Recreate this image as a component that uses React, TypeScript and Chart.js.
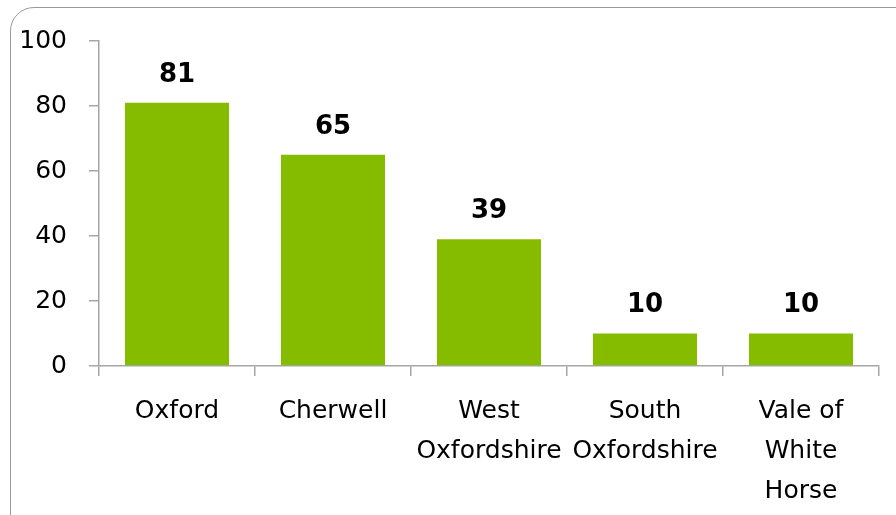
import React, { useEffect, useRef } from "react";
import { Chart, registerables } from "chart.js";

Chart.register(...registerables);

const categories: string[][] = [
  ["Oxford"],
  ["Cherwell"],
  ["West", "Oxfordshire"],
  ["South", "Oxfordshire"],
  ["Vale of", "White", "Horse"],
];
const values: number[] = [81, 65, 39, 10, 10];
const yTicks: number[] = [0, 20, 40, 60, 80, 100];

const FONT = "'DejaVu Sans', sans-serif";
const AXIS_COLOR = "#a6a6a6";
const BAR_COLOR = "#86bc00";

const valueLabels = {
  id: "valueLabels",
  afterDatasetsDraw(chart: any) {
    const ctx = chart.ctx;
    const meta = chart.getDatasetMeta(0);
    ctx.save();
    ctx.font = `bold 26px ${FONT}`;
    ctx.fillStyle = "#000";
    ctx.textAlign = "center";
    ctx.textBaseline = "middle";
    meta.data.forEach((bar: any, i: number) => {
      ctx.fillText(String(values[i]), bar.x, bar.y - 28);
    });
    ctx.restore();
  },
};

export default function App() {
  const ref = useRef<HTMLCanvasElement>(null);
  useEffect(() => {
    if (!ref.current) return;
    const chart = new Chart(ref.current, {
      type: "bar",
      data: {
        labels: categories,
        datasets: [
          {
            data: values,
            backgroundColor: BAR_COLOR,
            borderWidth: 0,
            categoryPercentage: 1,
            barPercentage: 0.667,
          },
        ],
      },
      options: {
        animation: false,
        responsive: false,
        maintainAspectRatio: false,
        layout: { padding: { top: 41, right: 17, left: 0, bottom: 0 } },
        plugins: {
          legend: { display: false },
          tooltip: { enabled: false },
          title: { display: false },
        },
        scales: {
          x: {
            grid: {
              display: true,
              drawOnChartArea: false,
              drawTicks: true,
              tickLength: 10,
              color: AXIS_COLOR,
              lineWidth: 1.5,
              offset: true,
            },
            border: { display: true, color: AXIS_COLOR, width: 1.5 },
            ticks: {
              color: "#000",
              font: { family: FONT, size: 25, lineHeight: 1.6 },
              padding: 15,
              maxRotation: 0,
              minRotation: 0,
              autoSkip: false,
            },
            afterFit(scale: any) {
              scale.height = 149;
            },
          },
          y: {
            min: 0,
            max: 100,
            grid: {
              display: true,
              drawOnChartArea: false,
              drawTicks: true,
              tickLength: 10,
              color: AXIS_COLOR,
              lineWidth: 1.5,
            },
            border: { display: true, color: AXIS_COLOR, width: 1.5 },
            afterBuildTicks(scale: any) {
              scale.ticks = yTicks.map((v) => ({ value: v }));
            },
            ticks: {
              color: "#000",
              font: { family: FONT, size: 25 },
              padding: 22,
            },
            afterFit(scale: any) {
              scale.width = 99;
            },
          },
        },
      },
      plugins: [valueLabels],
    });
    return () => chart.destroy();
  }, []);

  return (
    <div
      style={{
        position: "fixed",
        left: 0,
        top: 0,
        width: 896,
        height: 515,
        overflow: "hidden",
        background: "#fff",
      }}
    >
      <div
        style={{
          position: "absolute",
          left: 10,
          top: 7,
          width: 960,
          height: 600,
          border: "1.5px solid #9a9a9a",
          borderRadius: 24,
          boxSizing: "border-box",
        }}
      />
      <canvas
        ref={ref}
        width={896}
        height={515}
        style={{ position: "absolute", left: 0, top: 0, width: 896, height: 515 }}
      />
    </div>
  );
}
